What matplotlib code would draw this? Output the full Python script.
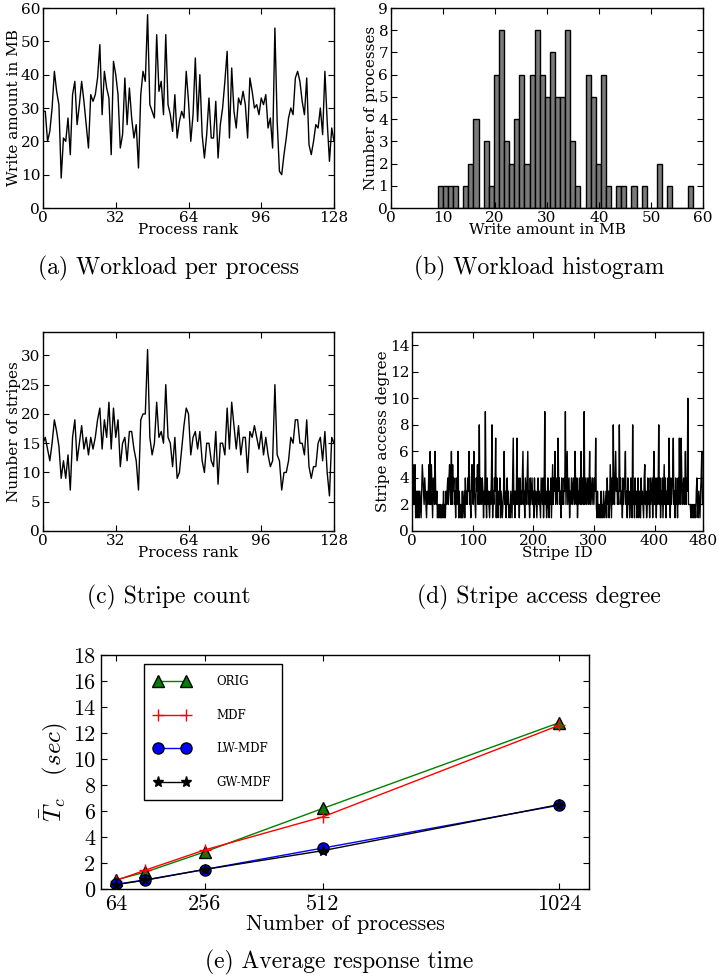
import numpy as np
import matplotlib
matplotlib.use("Agg")
import matplotlib.pyplot as plt

# (a) write amount per process rank
write_mb = [29, 29, 20, 23, 30, 41, 35, 31, 9, 21, 20, 27, 16, 34, 38, 25, 31, 38, 32, 25,
            18, 34, 32, 34, 39, 49, 28, 41, 36, 33, 16, 44, 40, 34, 18, 22, 39, 25, 36, 27,
            21, 25, 12, 34, 41, 38, 58, 31, 29, 27, 52, 35, 38, 28, 52, 31, 28, 23, 34, 21,
            26, 29, 27, 41, 32, 20, 28, 45, 26, 40, 22, 15, 22, 33, 21, 21, 32, 15, 25, 30,
            38, 47, 21, 42, 29, 24, 33, 31, 35, 31, 21, 39, 35, 30, 31, 28, 33, 31, 34, 24,
            27, 18, 54, 26, 11, 10, 16, 21, 27, 30, 28, 39, 41, 38, 32, 28, 39, 19, 16, 20,
            25, 24, 30, 22, 41, 26, 14, 24, 20]

# (b) histogram counts, 50 bins between 9 and 58 MB
hist_counts = [1, 1, 1, 1, 0, 1, 2, 4, 0, 3, 1, 6, 8, 3, 2, 4, 6, 2, 6, 8,
               6, 5, 7, 5, 5, 8, 3, 1, 0, 6, 5, 2, 6, 1, 0, 1, 1, 0, 1, 0,
               1, 0, 0, 2, 0, 1, 0, 0, 0, 1]
hist_lo, hist_hi = 9, 58

# (c) stripes per process rank
stripes = [15, 16, 14, 12, 15, 19, 17, 14.5, 9, 12, 9, 13, 7, 16, 19, 12, 15, 18, 14, 16,
           13, 16, 14, 16, 19, 21, 14, 19, 16, 22, 14, 21, 16, 19, 11, 15, 16, 12, 17, 17,
           14, 12, 7, 19, 20, 20, 31, 16, 13, 15, 22, 16, 17, 15, 25, 16, 15, 11, 16, 9,
           10, 14, 18, 21, 20, 13, 16, 17, 14, 17, 12, 10, 15, 15, 12, 11, 17, 8, 15, 15,
           13, 21, 14, 22, 18, 14, 18, 13, 16, 16, 10, 17, 16, 18, 16, 14, 17, 13, 16, 13,
           11, 12, 25, 13, 12, 7, 10, 10, 12, 16, 15, 19, 19, 15, 15, 13, 19, 11, 9, 11,
           11, 15, 16, 12, 17, 10, 6, 16, 15]

# (d) access degree per stripe id
access_deg = [
    1, 3, 5, 2, 4, 5, 1, 3, 1, 3,  1, 3, 1, 3, 2, 1, 3, 5, 4, 3,
    2, 4, 3, 2, 1, 3, 2, 3, 5, 2,  6, 2, 5, 3, 1, 4, 3, 2, 6, 3,
    2, 3, 1, 2, 1, 2, 1, 2, 1, 1,  2, 1, 3, 1, 2, 1, 3, 2, 3, 4,
    2, 4, 5, 3, 2, 6, 2, 5, 3, 4,  2, 3, 1, 4, 2, 3, 6, 1, 3, 1,
    2, 1, 1, 3, 1, 2, 3, 1, 4, 2,  3, 2, 4, 3, 6, 2, 3, 1, 4, 5,
    3, 2, 6, 3, 2, 1, 4, 3, 5, 2,  3, 8, 2, 4, 3, 2, 4, 3, 1, 3,
    2, 9, 3, 1, 4, 2, 3, 2, 1, 3,  2, 4, 8, 1, 3, 2, 4, 3, 7, 1,
    4, 2, 1, 3, 2, 4, 1, 3, 2, 1,  2, 3, 6, 2, 3, 1, 2, 4, 2, 3,
    1, 2, 1, 3, 2, 1, 4, 7, 2, 3,  1, 3, 2, 7, 2, 4, 3, 1, 4, 2,
    3, 2, 4, 6, 2, 3, 1, 4, 3, 2,  4, 6, 2, 3, 1, 4, 2, 3, 4, 2,
    3, 1, 4, 2, 3, 2, 1, 3, 4, 2,  3, 2, 1, 4, 3, 2, 4, 1, 3, 9,
    2, 3, 1, 2, 4, 2, 1, 3, 2, 4,  1, 3, 5, 2, 4, 3, 6, 2, 3, 4,
    2, 7, 3, 4, 2, 3, 1, 4, 2, 3,  2, 4, 3, 9, 2, 4, 6, 2, 3, 4,
    1, 3, 2, 4, 3, 2, 4, 3, 2, 6,  3, 2, 4, 1, 3, 2, 4, 3, 2, 6,
    2, 4, 3, 2, 9, 2, 3, 4, 2, 3,  4, 2, 3, 6, 2, 4, 3, 2, 4, 3,
    2, 4, 3, 7, 2, 1, 3, 1, 2, 1,  2, 1, 3, 1, 2, 1, 3, 2, 1, 2,
    3, 1, 4, 2, 3, 1, 2, 5, 3, 1,  4, 2, 8, 3, 2, 4, 6, 3, 4, 2,
    3, 2, 8, 3, 4, 2, 3, 1, 4, 2,  3, 4, 6, 2, 3, 1, 4, 2, 3, 1,
    2, 4, 3, 1, 8, 2, 3, 1, 4, 2,  3, 1, 2, 4, 1, 3, 2, 1, 4, 2,
    3, 2, 1, 4, 5, 2, 3, 1, 2, 4,  2, 3, 1, 4, 2, 3, 4, 1, 3, 6,
    2, 4, 3, 1, 4, 2, 3, 8, 2, 4,  1, 3, 2, 4, 1, 3, 5, 2, 4, 1,
    3, 2, 4, 2, 7, 3, 1, 4, 2, 3,  4, 7, 2, 3, 1, 4, 2, 3, 1, 4,
    2, 7, 3, 2, 7, 4, 2, 3, 4, 2,  3, 6, 2, 4, 3, 10, 2, 2, 2, 2,
    1, 2, 1, 2, 1, 2, 1, 2, 1, 3,  4, 2, 1, 3, 2, 1, 3, 4, 6, 2,
]

# (e) average response time
nprocs = [64, 128, 256, 512, 1024]
t_orig = [0.7, 1.3, 2.85, 6.2, 12.8]
t_mdf = [0.65, 1.45, 3.0, 5.55, 12.6]
t_lw = [0.36, 0.7, 1.5, 3.15, 6.45]
t_gw = [0.33, 0.68, 1.5, 2.95, 6.5]

plt.rcParams["font.family"] = "DejaVu Serif"
plt.rcParams["mathtext.fontset"] = "cm"
plt.rcParams["xtick.direction"] = "in"
plt.rcParams["ytick.direction"] = "in"
plt.rcParams["xtick.top"] = True
plt.rcParams["ytick.right"] = True
plt.rcParams["xtick.major.size"] = 4
plt.rcParams["ytick.major.size"] = 4
plt.rcParams["xtick.major.pad"] = 2
plt.rcParams["ytick.major.pad"] = 2
plt.rcParams["axes.linewidth"] = 1.0

W, H = 719, 976
fig = plt.figure(figsize=(W / 100, H / 100), dpi=100)


def add_ax(l, t, r, b):
    return fig.add_axes([l / W, 1 - b / H, (r - l) / W, (b - t) / H])


FS = 11

# (a)
ax = add_ax(43, 8, 334, 208)
ax.plot(np.arange(len(write_mb)), write_mb, color="black", lw=1)
ax.set_xlim(0, 128)
ax.set_ylim(0, 60)
ax.set_xticks([0, 32, 64, 96, 128])
ax.set_yticks(range(0, 61, 10))
ax.tick_params(labelsize=FS)
ax.set_xlabel("Process rank", fontsize=FS, labelpad=-1)
ax.set_ylabel("Write amount in MB", fontsize=FS, labelpad=0)

# (b)
ax = add_ax(391, 8, 703, 208)
edges = np.linspace(hist_lo, hist_hi, len(hist_counts) + 1)
ax.bar(edges[:-1], hist_counts, width=np.diff(edges), align="edge",
       color="#7a7a7a", edgecolor="black", lw=1)
ax.set_xlim(0, 60)
ax.set_ylim(0, 9)
ax.set_yticks(range(0, 10))
ax.tick_params(labelsize=FS)
ax.set_xlabel("Write amount in MB", fontsize=FS, labelpad=-1)
ax.set_ylabel("Number of processes", fontsize=FS, labelpad=0)

# (c)
ax = add_ax(43, 332, 334, 531)
ax.plot(np.arange(len(stripes)), stripes, color="black", lw=1)
ax.set_xlim(0, 128)
ax.set_ylim(0, 34)
ax.set_xticks([0, 32, 64, 96, 128])
ax.set_yticks(range(0, 31, 5))
ax.tick_params(labelsize=FS)
ax.set_xlabel("Process rank", fontsize=FS, labelpad=-1)
ax.set_ylabel("Number of stripes", fontsize=FS, labelpad=0)

# (d)
ax = add_ax(412, 332, 703, 531)
ax.plot(np.arange(len(access_deg)), access_deg, color="black", lw=1)
ax.set_xlim(0, 480)
ax.set_ylim(0, 15)
ax.set_xticks([0, 100, 200, 300, 400, 480])
ax.set_yticks(range(0, 15, 2))
ax.tick_params(labelsize=FS)
ax.set_xlabel("Stripe ID", fontsize=FS, labelpad=-1)
ax.set_ylabel("Stripe access degree", fontsize=FS, labelpad=0)

# (e)
ax = add_ax(101, 655, 589, 889)
ax.plot(nprocs, t_orig, color="green", marker="^", ms=8, mec="black", lw=1, label="ORIG")
ax.plot(nprocs, t_mdf, color="red", marker="+", ms=9, mew=1, lw=1, label="MDF")
ax.plot(nprocs, t_lw, color="blue", marker="o", ms=8, mec="black", lw=1, label="LW-MDF")
ax.plot(nprocs, t_gw, color="black", marker="*", ms=8, lw=1, label="GW-MDF")
ax.set_xlim(32, 1088)
ax.set_ylim(0, 18)
ax.set_xticks([64, 256, 512, 1024])
ax.set_yticks(range(0, 19, 2))
ax.tick_params(labelsize=16, pad=4)
for lbl in ax.get_xticklabels() + ax.get_yticklabels():
    lbl.set_fontfamily("cmr10")
ax.set_xlabel("Number of processes", fontsize=16, fontfamily="cmr10", labelpad=0)
ax.set_ylabel(r"$\bar{T}_c\quad(sec)$", fontsize=18, labelpad=2)
leg = ax.legend(loc="upper left", bbox_to_anchor=(0.075, 0.985), numpoints=2,
                fontsize=8.5, handlelength=3.0, handletextpad=2.3, labelspacing=1.75,
                borderpad=0.9, fancybox=False, framealpha=1)
leg.get_frame().set_edgecolor("black")

# captions
cap = dict(fontsize=17, fontfamily="cmr10", ha="center", va="center")
fig.text(168 / W, 1 - 268 / H, "(a) Workload per process", **cap)
fig.text(539 / W, 1 - 268 / H, "(b) Workload histogram", **cap)
fig.text(169 / W, 1 - 597 / H, "(c) Stripe count", **cap)
fig.text(539 / W, 1 - 597 / H, "(d) Stripe access degree", **cap)
fig.text(339 / W, 1 - 962 / H, "(e) Average response time", **cap)

fig.savefig("out.png", dpi=100)
